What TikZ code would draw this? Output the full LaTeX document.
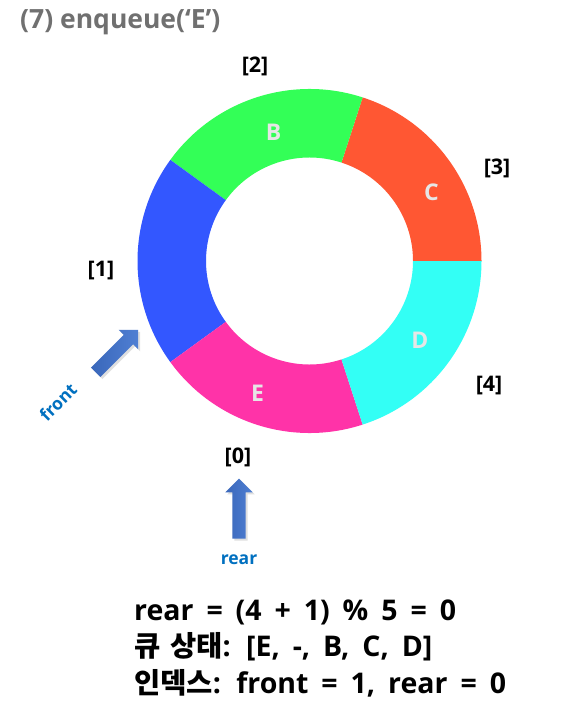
\documentclass[tikz,border=0pt]{standalone}
\usepackage{fontspec}
\setmainfont{Open Sans}
\newfontfamily\kr{Noto Sans CJK KR}
\newfontfamily\infofont{Open Sans}[WordSpace=1.75]
\newfontfamily\krinfo{Noto Sans CJK KR}[WordSpace=1.5]
\usetikzlibrary{shapes.arrows,shadows}
\definecolor{cB}{HTML}{33FF57}
\definecolor{cC}{HTML}{FF5733}
\definecolor{cA}{HTML}{3357FF}
\definecolor{cE}{HTML}{FF33A8}
\definecolor{cD}{HTML}{33FFF5}
\definecolor{seglbl}{HTML}{E6E6E6}
\definecolor{titlegray}{HTML}{707070}
\definecolor{ptrblue}{HTML}{0070C0}
\definecolor{arrlight}{HTML}{4F7FD3}
\definecolor{arrdark}{HTML}{3A67BA}
\tikzset{
  seglabel/.style={font=\bfseries\fontsize{23}{26}\selectfont, text=seglbl},
  idxlabel/.style={font=\bfseries\fontsize{21.5}{24}\selectfont, text=black},
  ptrlabel/.style={font=\bfseries\fontsize{17.5}{20}\selectfont, text=ptrblue},
  ptrarrow/.style={single arrow, draw=none, minimum height=60, minimum width=27,
    inner xsep=0pt, inner ysep=6.5pt, single arrow head extend=7pt,
    left color=arrdark, right color=arrlight,
    drop shadow={opacity=0.25, shadow xshift=2pt, shadow yshift=-2pt}},
  infotext/.style={font=\infofont\bfseries\fontsize{28.5}{36.5}\selectfont, align=left, anchor=north west}
}
\newcommand{\donutseg}[3]{%
  \fill[#3, shift={(309.5,261)}] (-#1:172) arc[start angle=-#1, end angle=-#2, radius=172]
    -- (-#2:103.5) arc[start angle=-#2, end angle=-#1, radius=103.5] -- cycle;}
\begin{document}
\begin{tikzpicture}[x=1pt, y=-1pt]
\useasboundingbox (0,0) rectangle (586,711);
\fill[white] (0,0) rectangle (586,711);
% title
\node[anchor=west, font=\bfseries\fontsize{26.5}{28}\selectfont, text=titlegray, inner xsep=0pt] (title) at (20,22) {(7) enqueue(‘E’)};
% donut
\donutseg{0}{72}{cC}
\donutseg{72}{144}{cB}
\donutseg{144}{216}{cA}
\donutseg{216}{288}{cE}
\donutseg{288}{360}{cD}
% segment labels
\node[seglabel] (lB) at (273.5,132) {B};
\node[seglabel] (lC) at (431.5,192) {C};
\node[seglabel] (lD) at (420,340) {D};
\node[seglabel] (lE) at (257.5,393) {E};
% index labels
\node[idxlabel] (i2) at (255,66) {[2]};
\node[idxlabel] (i3) at (497,168) {[3]};
\node[idxlabel] (i1) at (101,271) {[1]};
\node[idxlabel] (i4) at (489,386) {[4]};
\node[idxlabel] (i0) at (238,457) {[0]};
% pointers
\node[ptrarrow, rotate=45] (frontarr) at (114.5,353.5) {};
\node[ptrlabel, rotate=45, inner sep=0pt] (front) at (58,402) {front};
\node[ptrarrow, rotate=90] (reararr) at (239,512) {};
\node[ptrlabel] (rear) at (239,560) {rear};
% info
\node[infotext, inner xsep=0pt] (info) at (134,596) {rear = (4 + 1) \% 5 = 0\\{\krinfo 큐 상태}: [E, -, B, C, D]\\{\krinfo 인덱스}: front = 1, rear = 0};
\end{tikzpicture}
\end{document}
